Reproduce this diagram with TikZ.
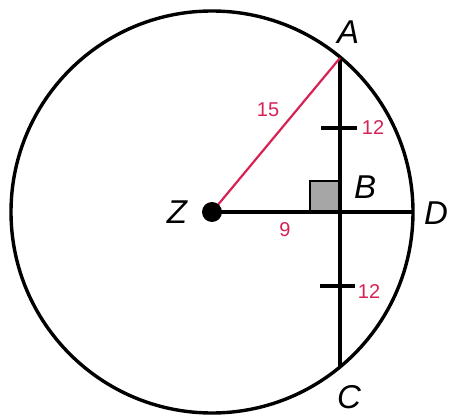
\documentclass[tikz,border=0pt]{standalone}
\usepackage{fontspec}
\setsansfont{Liberation Sans}
\usepackage{xcolor}
\usetikzlibrary{positioning,calc}
\definecolor{penred}{RGB}{214,34,84}
\tikzset{
  ring/.style   ={line width=3.4pt,black},
  seg/.style    ={line width=3.2pt,black},
  radius15/.style={line width=2.2pt,penred},
  tick/.style   ={line width=3.2pt,black},
  corner/.style ={draw,line width=1.8pt,fill=gray!70},
  pt/.style     ={font=\fontsize{33}{33}\selectfont\sffamily\itshape},
  num/.style    ={font=\fontsize{20}{20}\selectfont\sffamily,penred},
}

\begin{document}
\begin{tikzpicture}[x=1pt,y=1pt]
  \useasboundingbox (0,0) rectangle (452,418);
  % centre and points on the circle
  \coordinate (Z) at (212,206);
  \coordinate (A) at (340,360);
  \coordinate (B) at (340,206);
  \coordinate (C) at (340,52);
  \coordinate (D) at (412,206);
  \coordinate (tickup) at (340,290);
  \coordinate (ticklo) at (340,132);
  \draw[ring] (Z) circle (201);
  % chord AC and radius ZD
  \draw[corner] (B) rectangle ++(-30,31);
  \draw[seg] (A) -- (C);
  \draw[seg] (Z) -- (D);
  \draw[radius15] (Z) -- (A);
  % congruence marks
  \draw[tick] ([xshift=-19pt]tickup) -- ([xshift=17pt]tickup);
  \draw[tick] ([xshift=-20pt]ticklo) -- ([xshift=15pt]ticklo);
  \fill (Z) circle (10);
  % letters
  \node[pt] (lblA) at (348,386) {A};
  \node[pt] (lblB) at (365,231) {B};
  \node[pt] (lblD) at (436,205) {D};
  \node[pt] (lblZ) at (177,206) {Z};
  \node[pt] (lblC) at (349,21) {C};
  % lengths
  \node[num] (lenZA) at (268,308) {15};
  \node[num] (lenAB) at (373,290) {12};
  \node[num] (lenBC) at (369,126) {12};
  \node[num] (lenZB) at (285,188) {9};
\end{tikzpicture}
\end{document}
